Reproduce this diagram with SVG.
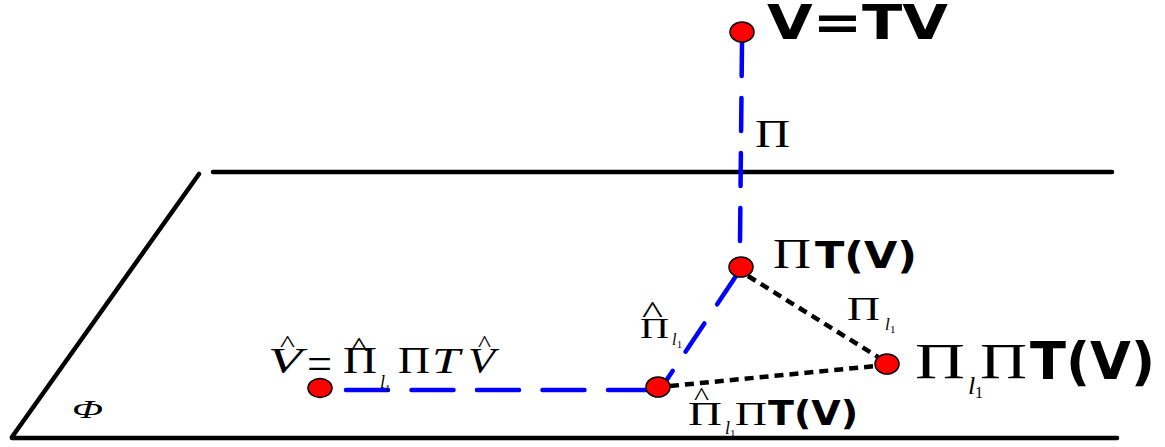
<svg xmlns="http://www.w3.org/2000/svg" width="1165" height="447" viewBox="0 0 1165 447">
<style>
.pl{stroke:#000;stroke-width:4.5;stroke-linecap:round;fill:none}
.bl{stroke:#0000ff;stroke-width:4.5;stroke-linecap:round;fill:none}
.dt{stroke:#000;stroke-width:4.5;stroke-dasharray:9 6;fill:none}
.nd{fill:#ff0000;stroke:#000;stroke-width:1.5}
.sr{font-family:"Liberation Serif","Times New Roman",serif;fill:#000}
.it{font-family:"Liberation Serif","Times New Roman",serif;font-style:italic;fill:#000}
.bs{font-family:"DejaVu Sans",Verdana,sans-serif;font-weight:bold;fill:#000}
</style>
<g id="plane">
<line class="pl" x1="199" y1="174" x2="12" y2="437"/>
<line class="pl" x1="213" y1="172" x2="1112" y2="172"/>
<line class="pl" x1="12" y1="438" x2="1117" y2="438"/>
<text class="it" x="72" y="418" font-size="26" textLength="31" lengthAdjust="spacingAndGlyphs">Φ</text>
</g>
<g id="connectors">
<line class="bl" x1="742" y1="43" x2="740" y2="243" stroke-dasharray="33 22"/>
<line class="bl" x1="736" y1="276" x2="666" y2="381" stroke-dasharray="34 23"/>
<line class="bl" x1="346" y1="390" x2="650" y2="390" stroke-dasharray="42 23.5"/>
<line class="dt" x1="748" y1="276" x2="878" y2="357"/>
<line class="dt" x1="670" y1="386" x2="876" y2="366"/>
<text class="sr" x="755" y="147" font-size="40" textLength="35" lengthAdjust="spacingAndGlyphs">Π</text>
<g id="lbl-pil1">
<text class="sr" x="847" y="320" font-size="33" textLength="33" lengthAdjust="spacingAndGlyphs">Π</text>
<text class="it" x="885" y="330" font-size="17">l</text>
<text class="sr" x="890" y="333" font-size="11">1</text>
</g>
<g id="lbl-hatpil1">
<text class="sr" x="642" y="323" font-size="32" textLength="21" lengthAdjust="spacingAndGlyphs">^</text>
<text class="sr" x="640" y="338" font-size="30" textLength="29" lengthAdjust="spacingAndGlyphs">Π</text>
<text class="it" x="672" y="345" font-size="16">l</text>
<text class="sr" x="677" y="348" font-size="10">1</text>
</g>
</g>
<g id="node-v">
<ellipse class="nd" cx="742" cy="32" rx="12" ry="10"/>
<text class="bs" x="767" y="39" font-size="48" textLength="181" lengthAdjust="spacingAndGlyphs">V=TV</text>
</g>
<g id="node-pitv">
<ellipse class="nd" cx="741" cy="267" rx="12" ry="10"/>
<text class="sr" x="773" y="268" font-size="42" textLength="38" lengthAdjust="spacingAndGlyphs">Π</text>
<text class="bs" x="815" y="268" font-size="38" textLength="102" lengthAdjust="spacingAndGlyphs">T(V)</text>
</g>
<g id="node-pil1pitv">
<ellipse class="nd" cx="887" cy="364" rx="12" ry="10"/>
<text class="sr" x="915" y="378" font-size="50" textLength="50" lengthAdjust="spacingAndGlyphs">Π</text>
<text class="it" x="968" y="394" font-size="26">l</text>
<text class="sr" x="975" y="398" font-size="16">1</text>
<text class="sr" x="980" y="378" font-size="50" textLength="47" lengthAdjust="spacingAndGlyphs">Π</text>
<text class="bs" x="1030" y="379" font-size="51" textLength="125" lengthAdjust="spacingAndGlyphs">T(V)</text>
</g>
<g id="node-hatpil1pitv">
<ellipse class="nd" cx="658" cy="387" rx="12" ry="10"/>
<text class="sr" x="694" y="405" font-size="26" textLength="15" lengthAdjust="spacingAndGlyphs">^</text>
<text class="sr" x="688" y="425" font-size="34" textLength="34" lengthAdjust="spacingAndGlyphs">Π</text>
<text class="it" x="725" y="434" font-size="18">l</text>
<text class="sr" x="730" y="437" font-size="11">1</text>
<text class="sr" x="735" y="425" font-size="34" textLength="32" lengthAdjust="spacingAndGlyphs">Π</text>
<text class="bs" x="768" y="425" font-size="34" textLength="90" lengthAdjust="spacingAndGlyphs">T(V)</text>
</g>
<g id="node-vhat">
<ellipse class="nd" cx="320" cy="388" rx="12" ry="9.5"/>
<text class="it" x="268" y="373" font-size="36" textLength="34" lengthAdjust="spacingAndGlyphs">V</text>
<text class="sr" x="280" y="351" font-size="24" textLength="15" lengthAdjust="spacingAndGlyphs">^</text>
<text class="sr" x="307" y="379" font-size="46" textLength="25" lengthAdjust="spacingAndGlyphs">=</text>
<text class="sr" x="350" y="356" font-size="28" textLength="18" lengthAdjust="spacingAndGlyphs">^</text>
<text class="sr" x="343" y="373" font-size="38" textLength="34" lengthAdjust="spacingAndGlyphs">Π</text>
<text class="it" x="380" y="388" font-size="18">l</text>
<text class="sr" x="385" y="392" font-size="11">1</text>
<text class="sr" x="398" y="373" font-size="38" textLength="32" lengthAdjust="spacingAndGlyphs">Π</text>
<text class="it" x="432" y="373" font-size="36" textLength="28" lengthAdjust="spacingAndGlyphs">T</text>
<text class="it" x="468" y="373" font-size="36" textLength="27" lengthAdjust="spacingAndGlyphs">V</text>
<text class="sr" x="478" y="351" font-size="24" textLength="13" lengthAdjust="spacingAndGlyphs">^</text>
</g>
</svg>
